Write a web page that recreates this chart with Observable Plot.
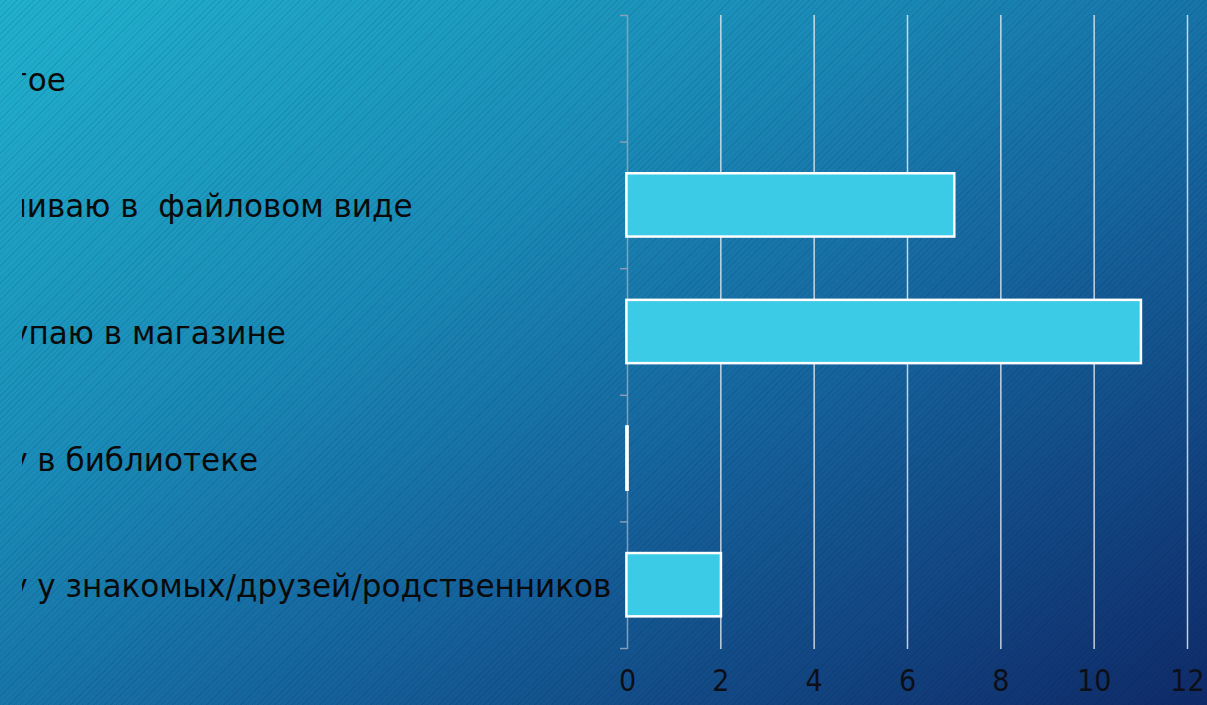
<!DOCTYPE html>
<html>
<head>
<meta charset="utf-8">
<script src="https://cdn.jsdelivr.net/npm/d3@7"></script>
<script src="https://cdn.jsdelivr.net/npm/@observablehq/plot@0.6"></script>
<style>
  html, body { margin: 0; padding: 0; overflow: hidden; }
  #page {
    position: relative; width: 1207px; height: 705px; overflow: hidden;
    background:
      repeating-linear-gradient(135deg, rgba(0,20,50,0.10) 0px, rgba(0,20,50,0.10) 1px, rgba(255,255,255,0) 1px, rgba(255,255,255,0) 4px),
      linear-gradient(to bottom right, #21b2cd 0%, #1a8cb8 35%, #15629c 62%, #0f2a68 100%);
  }
  #chart { position: absolute; left: 22px; top: 0; }
</style>
</head>
<body>
<div id="page"><div id="chart"></div></div>
<script>
// Data
const categories = [
  "Другое",
  "Скачиваю в  файловом виде",
  "Покупаю в магазине",
  "Беру в библиотеке",
  "Беру у знакомых/друзей/родственников"
];
const values = [null, 7, 11, 0, 2];
const xTicks = [0, 2, 4, 6, 8, 10, 12];

const data = categories.map((c, i) => ({category: c, index: i, value: values[i]}));
const boundaries = d3.range(categories.length + 1).map(i => i - 0.5);

// Layout
const chartLeft = 22;
const W = 1207 - chartLeft, H = 705;
const marginLeft = 627 - chartLeft, marginRight = W - (1187 - chartLeft);
const marginTop = 15, marginBottom = H - 648;

// Label font sizing (measured so labels start cut at the clip edge like the slide)
const labelFont = "DejaVu Sans";
const ctx = document.createElement("canvas").getContext("2d");
function tw(s, size) { ctx.font = `${size}px "${labelFont}"`; return ctx.measureText(s).width; }
const full = categories[4];
const base = 28;
let fontSize = base * 584 / (tw(full, base) - tw("Беру", base));
fontSize = Math.max(22, Math.min(32, fontSize));
const startPage = 27 - tw("Беру", fontSize);
const labelDx = (startPage - chartLeft) - marginLeft;

const plot = Plot.plot({
  width: W,
  height: H,
  marginLeft, marginRight, marginTop, marginBottom,
  style: {background: "transparent", overflow: "hidden"},
  x: {domain: [0, 12], ticks: xTicks, label: null},
  y: {domain: [-0.5, categories.length - 0.5], reverse: true, label: null},
  marks: [
    Plot.ruleX(xTicks.filter(t => t > 0), {stroke: "#e3e9f0", strokeOpacity: 0.85, strokeWidth: 1.5, insetBottom: -1}),
    Plot.ruleX([0], {stroke: "#93a3b6", strokeOpacity: 0.9, strokeWidth: 1.5, insetBottom: -1}),
    Plot.axisY({ticks: boundaries, tickFormat: () => "", tickSize: 7, stroke: "#93a3b6", strokeWidth: 1.5, strokeOpacity: 0.9, label: null}),
    Plot.rectX(data, {
      x1: 0, x2: "value",
      y1: d => d.index - 0.25, y2: d => d.index + 0.25,
      fill: "#3ccbe6", stroke: "#ffffff", strokeWidth: 2.5,
      insetLeft: -0.6, insetRight: -0.6
    }),
    Plot.axisX({
      ticks: xTicks, tickSize: 0, tickPadding: 21, label: null,
      fontSize: 30, fill: "#0d0f18",
      fontFamily: "'Liberation Sans Narrow', 'DejaVu Sans Condensed', sans-serif"
    }),
    Plot.text(data, {
      x: () => 0, y: "index", text: "category",
      textAnchor: "start", dx: labelDx, dy: 2,
      fontSize, fontFamily: labelFont, fill: "#0a0a0a"
    })
  ]
});
document.getElementById("chart").appendChild(plot);
</script>
</body>
</html>
